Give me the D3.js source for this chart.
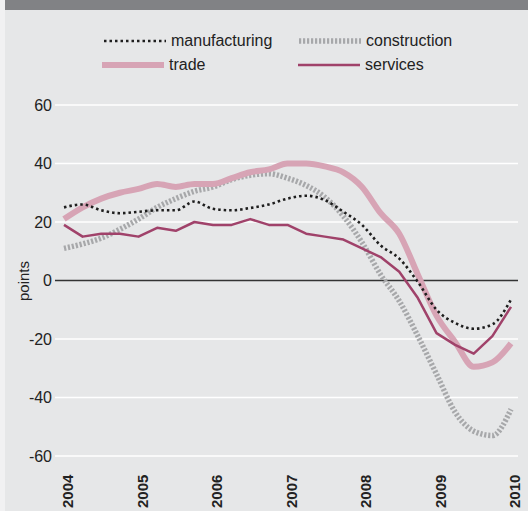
<!DOCTYPE html>
<html>
<head>
<meta charset="utf-8">
<script src="https://cdn.jsdelivr.net/npm/d3@7"></script>
<style>
  body { margin: 0; background: #f1f1f2; }
  svg { display: block; font-family: "Liberation Sans", Arial, Helvetica, sans-serif; }
</style>
</head>
<body>
<div id="chart"></div>
<script>
// quarterly survey balances, 2004Q1 .. 2010Q1
const quarters = d3.range(0, 25);
const manufacturing = [25, 26, 24, 23, 23.5, 24, 24, 27, 24.5, 24, 24.8, 26, 28, 29, 27.5, 23.5, 19, 12, 7.5, -0.5, -10, -14.5, -16.5, -15, -6.5];
const construction = [11, 12.5, 14.5, 17.5, 21, 25, 28, 30.5, 32, 34.5, 36, 36.5, 35, 32.5, 28.5, 22, 13, 2, -7, -19, -32, -45, -51.5, -53, -44];
const trade = [21, 25, 28, 30, 31.3, 33, 32, 33, 33, 35, 37, 38, 40, 40, 39, 37, 32, 23, 16, 2, -12, -21, -29.5, -28, -21.5];
const services = [19, 15, 16, 16, 15, 18, 17, 20, 19, 19, 21, 19, 19, 16, 15, 14, 11, 8, 3, -6, -18, -22, -25, -19, -9];
const yearLabels = ["2004", "2005", "2006", "2007", "2008", "2009", "2010"];
const yTicks = [60, 40, 20, 0, -20, -40, -60];

const W = 528, H = 511;

const svg = d3.select("#chart").append("svg")
  .attr("width", W)
  .attr("height", H);

// panel + top band
svg.append("rect").attr("x", 5).attr("y", 0).attr("width", W - 5).attr("height", H).attr("fill", "#e6e7e8");
svg.append("rect").attr("x", 5).attr("y", 0).attr("width", W - 5).attr("height", 10).attr("fill", "#818285");

const x = d3.scaleLinear().domain([0, 24]).range([64, 511]);
const y = d3.scaleLinear().domain([-60, 60]).range([456, 105]);

// gridlines
svg.append("g")
  .selectAll("line")
  .data(yTicks.filter(d => d !== 0))
  .join("line")
  .attr("x1", 55).attr("x2", 518)
  .attr("y1", d => y(d)).attr("y2", d => y(d))
  .attr("stroke", "#ffffff")
  .attr("stroke-width", 1.5);

// y axis labels (plain hyphen for negatives)
const yAxis = svg.append("g")
  .attr("transform", "translate(52,0)")
  .call(d3.axisLeft(y).tickValues(yTicks).tickSize(0).tickPadding(0).tickFormat(d => String(d)));
yAxis.select(".domain").remove();
yAxis.selectAll("text")
  .attr("font-family", "Liberation Sans, Arial, sans-serif")
  .attr("font-size", "16px")
  .attr("fill", "#222");

svg.append("text")
  .attr("transform", "translate(29,281) rotate(-90)")
  .attr("text-anchor", "middle")
  .attr("font-size", "15px")
  .attr("fill", "#222")
  .text("points");

// x labels (rotated)
svg.append("g")
  .selectAll("text")
  .data(yearLabels)
  .join("text")
  .attr("transform", (d, i) => `translate(${x(i * 4) + 9},508) rotate(-90)`)
  .attr("font-size", "15px")
  .attr("font-weight", "bold")
  .attr("fill", "#222")
  .text(d => d);

// zero line
svg.append("line")
  .attr("x1", 55).attr("x2", 518)
  .attr("y1", y(0)).attr("y2", y(0))
  .attr("stroke", "#333")
  .attr("stroke-width", 1.3);

const series = [
  { name: "construction", values: construction, color: "#a7a8aa", width: 5.5, dash: "2.2,1.8", curve: d3.curveMonotoneX },
  { name: "trade", values: trade, color: "#d7a4b5", width: 6, dash: null, curve: d3.curveMonotoneX },
  { name: "manufacturing", values: manufacturing, color: "#1e1e1e", width: 2.6, dash: "2.5,3", curve: d3.curveMonotoneX },
  { name: "services", values: services, color: "#a0426a", width: 2.5, dash: null, curve: d3.curveLinear }
];

series.forEach(s => {
  const line = d3.line()
    .x((d, i) => x(quarters[i]))
    .y(d => y(d))
    .curve(s.curve);
  svg.append("path")
    .datum(s.values)
    .attr("d", line)
    .attr("fill", "none")
    .attr("stroke", s.color)
    .attr("stroke-width", s.width)
    .attr("stroke-dasharray", s.dash)
    .attr("stroke-linejoin", "round");
});

// legend
const legend = [
  { label: "manufacturing", s: series[2], lx: 104, ly: 41 },
  { label: "construction", s: series[0], lx: 299, ly: 41 },
  { label: "trade", s: series[1], lx: 102, ly: 65 },
  { label: "services", s: series[3], lx: 298, ly: 65 }
];
legend.forEach(l => {
  svg.append("line")
    .attr("x1", l.lx).attr("x2", l.lx + 62)
    .attr("y1", l.ly).attr("y2", l.ly)
    .attr("stroke", l.s.color)
    .attr("stroke-width", l.s.width)
    .attr("stroke-dasharray", l.s.dash);
  svg.append("text")
    .attr("x", l.lx + 67)
    .attr("y", l.ly + 5)
    .attr("font-size", "16px")
    .attr("fill", "#222")
    .text(l.label);
});
</script>
</body>
</html>
